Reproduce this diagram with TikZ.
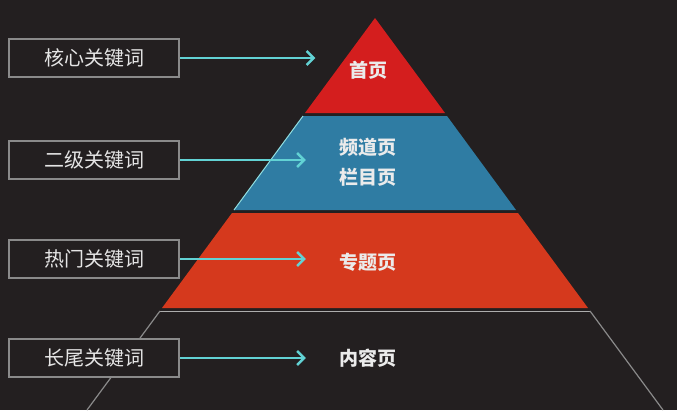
\documentclass[tikz,border=0pt]{standalone}
\usepackage{fontspec}
\newfontfamily\cjk{Noto Sans CJK SC}
\usetikzlibrary{positioning,calc,arrows.meta}
\definecolor{bg}{HTML}{231F20}
\definecolor{topred}{HTML}{D41E1E}
\definecolor{midblue}{HTML}{2F7CA3}
\definecolor{lowred}{HTML}{D5391D}
\definecolor{cyanarrow}{HTML}{62D2D4}
\definecolor{boxgray}{HTML}{8A8A8A}

\begin{document}
\begin{tikzpicture}[
    x=1pt, y=-1pt,
    keyword/.style={draw=boxgray, line width=1.5pt, fill=bg, text=white!90!black,
        minimum width=170pt, minimum height=38pt, font=\cjk\fontsize{20}{24}\selectfont},
    page/.style={text=white!92!black, font=\cjk\bfseries\fontsize{19}{30}\selectfont, align=center},
    arrow/.style={-{Straight Barb[length=7pt,width=14pt]}, cyanarrow, line width=2.5pt}
    ]
    \useasboundingbox (0,0) rectangle (677,410);
    % Hintergrund
    \fill[bg] (0,0) rectangle (677,410);

    % Pyramide
    \fill[topred] (375,18) -- (445,113) -- (305,113) -- cycle;
    \fill[midblue] (303,116) -- (447,116) -- (516,210) -- (234,210) -- cycle;
    \draw[cyanarrow!70!white, line width=1pt] (303,116) -- (234,210);
    \fill[lowred] (232,213) -- (518,213) -- (588,308) -- (162,308) -- cycle;
    \draw[boxgray!70!white, line width=0.8pt] (160,311) -- (590,311);
    \draw[boxgray, line width=1.2pt] (160,311) -- (87,410);
    \draw[boxgray, line width=1.2pt] (590,311) -- (663,410);

    % Schlüsselwörter
    \node[keyword] (K1) at (94,58) {核心关键词};
    \node[keyword] (K2) at (94,160) {二级关键词};
    \node[keyword] (K3) at (94,259) {热门关键词};
    \node[keyword] (K4) at (94,358) {长尾关键词};

    % Seiten
    \node[page] (P1) at (368,70) {首页};
    \node[page] (P2) at (368,162) {频道页\\栏目页};
    \node[page] (P3) at (368,262) {专题页};
    \node[page] (P4) at (368,358) {内容页};

    % Pfeile
    \foreach \i in {1,2,3,4}
        \draw[arrow] (K\i.east) -- ([xshift=-30pt]P\i.west |- K\i.east);
\end{tikzpicture}
\end{document}
